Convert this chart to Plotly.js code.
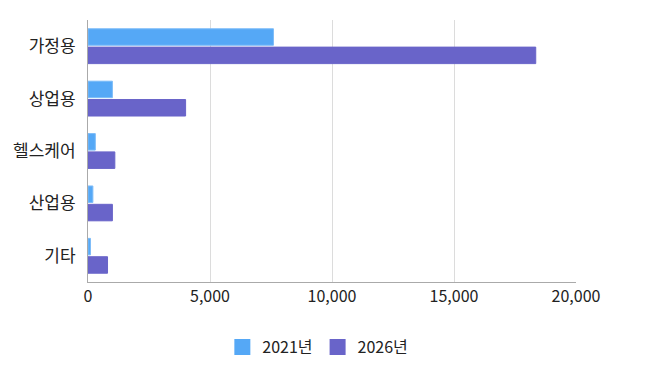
<!DOCTYPE html>
<html><head><meta charset="utf-8">
<script src="https://cdn.plot.ly/plotly-3.0.1.min.js"></script>
<style>html,body{margin:0;padding:0;background:#fff;}#chart{width:650px;height:365px;}</style>
</head><body><div id="chart"></div>
<script>
const categories = ['가정용', '상업용', '헬스케어', '산업용', '기타'];
const seriesNames = ['2021년', '2026년'];
const values2021 = [7600, 1000, 300, 200, 100];
const values2026 = [18350, 4000, 1100, 1000, 800];
const xTickVals = [0, 5000, 10000, 15000, 20000];
const xTickText = ['0', '5,000', '10,000', '15,000', '20,000'];
const colors = ['#55a8f6', '#6964c9'];
const borders = ['#7dbcf8', '#6964c9'];

const traces = [values2021, values2026].map((v, i) => ({
  type: 'bar', orientation: 'h', name: seriesNames[i],
  y: categories, x: v, showlegend: false,
  marker: {color: colors[i], line: {color: borders[i], width: 1}},
  hoverinfo: 'x+y'
}));
seriesNames.forEach((n, i) => traces.push({
  type: 'scatter', mode: 'markers', name: n, x: [null], y: [null],
  marker: {symbol: 'square', size: 16, color: colors[i]}, showlegend: true
}));

const layout = {
  width: 650, height: 365,
  margin: {l: 88, r: 74, t: 20, b: 83},
  paper_bgcolor: '#fff', plot_bgcolor: '#fff',
  font: {family: '"Noto Sans CJK KR", "Noto Sans", sans-serif', size: 16, color: '#222'},
  barmode: 'group', bargap: 0.3, bargroupgap: 0.1,
  xaxis: {range: [0, 20000], tickvals: xTickVals, ticktext: xTickText,
    showgrid: true, gridcolor: '#dcdcdc', gridwidth: 1, zeroline: false,
    showline: true, linecolor: '#aaaaaa', linewidth: 1, ticks: '', ticklen: 0,
    tickfont: {size: 16, color: '#222'}},
  yaxis: {type: 'category', categoryorder: 'array', categoryarray: categories, autorange: 'reversed',
    showgrid: false, zeroline: false, showline: true, linecolor: '#aaaaaa', linewidth: 1,
    ticks: '', ticklabelstandoff: 8, tickfont: {size: 17, color: '#222'}},
  showlegend: true,
  legend: {orientation: 'h', x: 0.489, xref: 'container', xanchor: 'center',
    y: 0.049, yref: 'container', yanchor: 'middle',
    font: {size: 16, color: '#222'}, itemwidth: 30}
};
Plotly.newPlot('chart', traces, layout, {displayModeBar: false, staticPlot: true});
</script></body></html>
